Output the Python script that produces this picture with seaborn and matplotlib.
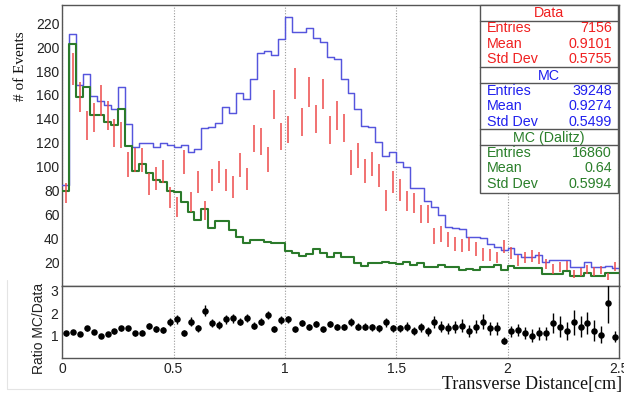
import numpy as np
import pandas as pd
import matplotlib
matplotlib.use("Agg")
import matplotlib.pyplot as plt
import seaborn as sns
from matplotlib.ticker import MultipleLocator, FixedLocator, NullFormatter
from matplotlib.patches import Rectangle
from matplotlib.lines import Line2D

# ---------------- data ----------------
x_min, x_max, n_bins = 0.0, 2.5, 80

data_counts = [77.7, 181.5, 158.6, 134.3, 141.3, 155.3, 142.7, 128.0, 126.5, 102.0,
               105.6, 105.6, 85.5, 90.3, 95.9, 74.3, 66.5, 103.7, 70.2, 87.5,
               63.5, 88.6, 95.6, 88.6, 83.3, 101.7, 89.7, 123.7, 121.0, 105.9,
               152.2, 125.1, 131.0, 169.8, 137.0, 162.8, 139.9, 160.7, 130.7, 142.7,
               132.5, 103.7, 109.2, 96.3, 102.4, 92.4, 71.7, 87.2, 80.3, 71.5,
               69.5, 60.3, 60.3, 42.0, 43.7, 39.0, 35.5, 34.0, 35.0, 31.0,
               26.5, 26.0, 24.0, 33.0, 27.5, 21.5, 24.0, 25.0, 23.5, 18.6,
               14.4, 16.0, 17.3, 10.2, 12.0, 13.9, 12.2, 13.6, 8.0, 16.5]

data_err = [8.4, 13.3, 12.6, 11.9, 11.9, 12.8, 11.9, 11.5, 11.2, 10.3,
            10.3, 10.3, 9.1, 9.6, 9.8, 8.6, 8.2, 10.2, 8.4, 9.2,
            8.1, 9.3, 9.5, 9.3, 9.1, 10.0, 9.5, 11.2, 11.0, 10.3,
            12.3, 11.2, 11.4, 13.0, 11.7, 12.6, 11.8, 12.7, 11.4, 12.0,
            11.5, 10.3, 10.4, 9.8, 10.1, 9.6, 8.5, 9.3, 9.0, 8.5,
            8.4, 7.8, 7.8, 6.5, 6.6, 6.2, 5.9, 5.8, 5.9, 5.6,
            5.2, 5.1, 4.9, 5.6, 5.1, 4.6, 4.8, 5.0, 4.9, 4.3,
            3.9, 4.0, 4.1, 3.2, 3.5, 3.6, 3.5, 3.6, 2.9, 4.0]

mc_counts = [85.0, 210.8, 168.4, 177.6, 159.2, 155.3, 151.6, 148.0, 166.4, 135.5,
             116.2, 119.6, 120.0, 116.8, 120.0, 118.2, 116.8, 118.2, 112.6, 114.6,
             132.1, 133.5, 136.8, 149.7, 144.7, 162.0, 156.4, 173.1, 194.9, 197.1,
             193.5, 206.6, 225.0, 212.5, 212.5, 215.8, 207.4, 204.0, 192.0, 189.8,
             173.1, 161.4, 148.0, 134.3, 133.5, 120.4, 109.0, 112.0, 104.2, 99.5,
             81.9, 81.9, 71.5, 66.5, 59.6, 49.3, 48.4, 48.0, 41.4, 41.4,
             40.0, 35.0, 33.0, 30.3, 32.2, 26.7, 24.7, 24.7, 26.1, 20.0,
             21.9, 21.9, 21.9, 16.3, 16.3, 20.5, 16.3, 16.3, 17.0, 15.5]

dalitz_counts = [80.0, 202.4, 158.0, 167.0, 143.3, 143.3, 137.7, 134.9, 148.0, 117.3,
                 96.4, 102.0, 95.0, 88.9, 87.5, 80.0, 79.0, 70.7, 62.4, 55.4,
                 64.6, 48.4, 54.6, 54.6, 47.0, 41.4, 35.9, 38.7, 38.7, 37.3,
                 35.9, 36.5, 29.7, 28.0, 25.3, 26.9, 30.9, 28.0, 24.2, 27.5,
                 24.2, 24.2, 19.7, 16.9, 19.7, 19.7, 20.5, 19.7, 18.3, 20.5,
                 18.0, 19.7, 16.3, 16.3, 17.7, 16.0, 16.0, 13.6, 14.4, 13.6,
                 16.4, 16.4, 17.7, 13.6, 17.0, 15.0, 15.0, 15.0, 15.0, 10.3,
                 10.3, 10.3, 12.8, 8.6, 8.6, 10.8, 8.9, 8.9, 10.8, 10.8]

ratio_vals = [1.11, 1.16, 1.08, 1.33, 1.16, 1.01, 1.08, 1.21, 1.33, 1.33,
              1.11, 1.14, 1.44, 1.30, 1.26, 1.60, 1.73, 1.14, 1.63, 1.33,
              2.12, 1.56, 1.48, 1.73, 1.78, 1.63, 1.78, 1.44, 1.63, 1.93,
              1.30, 1.70, 1.73, 1.29, 1.57, 1.38, 1.53, 1.29, 1.51, 1.38,
              1.38, 1.60, 1.41, 1.41, 1.38, 1.33, 1.59, 1.33, 1.33, 1.41,
              1.21, 1.38, 1.19, 1.60, 1.41, 1.33, 1.38, 1.45, 1.21, 1.41,
              1.63, 1.33, 1.33, 0.79, 1.19, 1.26, 1.11, 1.01, 1.11, 1.11,
              1.56, 1.41, 1.23, 1.59, 1.41, 1.56, 1.23, 1.04, 2.44, 0.96]

ratio_err = [0.12, 0.09, 0.09, 0.11, 0.10, 0.09, 0.10, 0.11, 0.11, 0.12,
             0.12, 0.12, 0.14, 0.13, 0.13, 0.17, 0.20, 0.13, 0.19, 0.16,
             0.26, 0.17, 0.16, 0.19, 0.20, 0.17, 0.19, 0.15, 0.16, 0.19,
             0.13, 0.16, 0.16, 0.12, 0.14, 0.13, 0.14, 0.12, 0.14, 0.14,
             0.14, 0.17, 0.17, 0.16, 0.15, 0.16, 0.20, 0.17, 0.17, 0.19,
             0.19, 0.20, 0.20, 0.26, 0.24, 0.25, 0.27, 0.28, 0.26, 0.30,
             0.33, 0.30, 0.30, 0.16, 0.26, 0.28, 0.27, 0.27, 0.28, 0.30,
             0.45, 0.45, 0.40, 0.55, 0.45, 0.50, 0.45, 0.38, 0.87, 0.25]

stats_titles = ["Data", "MC", "MC (Dalitz)"]
stats_labels = ["Entries", "Mean", "Std Dev"]
stats_values = [["7156", "0.9101", "0.5755"],
                ["39248", "0.9274", "0.5499"],
                ["16860", "0.64", "0.5994"]]

x_tick_labels = ["0", "0.5", "1", "1.5", "2", "2.5"]
ratio_tick_labels = ["1", "2", "3"]

# ---------------- styling ----------------
sns.set_theme(style="white")
plt.rcParams["font.family"] = ["Liberation Sans", "DejaVu Sans"]

RED = "#ee4a4a"
RED_TXT = "#f02020"
BLUE = "#5555dd"
BLUE_TXT = "#2020ee"
GREEN = "#2b7a2b"
GREEN_TXT = "#2a7f2a"
FRAME = "#555555"

W, H = 624, 399
fig = plt.figure(figsize=(W / 100, H / 100), dpi=100)
fig.patch.set_facecolor("white")


def rect(x0, y0, x1, y1):
    return [x0 / W, 1 - y1 / H, (x1 - x0) / W, (y1 - y0) / H]


X0, X1 = 62.3, 618.8
ax = fig.add_axes(rect(X0, 4.5, X1, 286.2))
ax2 = fig.add_axes(rect(X0, 286.2, X1, 358.3))

edges = [float(e) for e in np.linspace(x_min, x_max, n_bins + 1)]
centers = [0.5 * (edges[i] + edges[i + 1]) for i in range(n_bins)]

hist_df = pd.DataFrame({"x": centers, "mc": mc_counts, "dalitz": dalitz_counts,
                        "data": data_counts, "data_err": data_err,
                        "ratio": ratio_vals, "ratio_err": ratio_err})

# ---------------- top panel ----------------
sns.histplot(data=hist_df, x="x", weights="mc", bins=edges, element="step", fill=False,
             color=BLUE, linewidth=1.05, ax=ax, legend=False, zorder=3)
sns.histplot(data=hist_df, x="x", weights="dalitz", bins=edges, element="step", fill=False,
             color=GREEN, linewidth=1.5, ax=ax, legend=False, zorder=4)
ax.errorbar(hist_df["x"], hist_df["data"], yerr=hist_df["data_err"], fmt="none",
            ecolor=RED, elinewidth=1.1, capsize=0, zorder=5)

ax.set_xlim(x_min, x_max)
ax.set_ylim(0, 235.7)
ax.set_xlabel("")
ax.set_ylabel("")

ax.xaxis.set_major_locator(MultipleLocator(0.5))
ax.xaxis.set_minor_locator(MultipleLocator(0.1))
ax.xaxis.set_major_formatter(NullFormatter())
ax.yaxis.set_major_locator(FixedLocator(np.arange(20, 221, 20)))
ax.yaxis.set_minor_locator(MultipleLocator(4))
ax.tick_params(axis="y", which="major", direction="in", length=12, width=0.9,
               color=FRAME, labelsize=10, pad=2, labelcolor="#222222")
ax.tick_params(axis="y", which="minor", direction="in", length=6, width=0.8, color=FRAME)
ax.tick_params(axis="x", which="major", direction="in", length=8, width=0.9, color=FRAME)
ax.tick_params(axis="x", which="minor", direction="in", length=5, width=0.8, color=FRAME)
ax.tick_params(top=False, right=False)
ax.grid(False)
ax.xaxis.grid(True, which="major", linestyle=(0, (1, 1.5)), color="#9a9a9a", linewidth=0.8)

# ---------------- ratio panel ----------------
ax2.errorbar(hist_df["x"], hist_df["ratio"], yerr=hist_df["ratio_err"], fmt="none",
             ecolor="black", elinewidth=1.0, capsize=0, zorder=3)
sns.scatterplot(data=hist_df, x="x", y="ratio", color="black", s=22, linewidth=0,
                ax=ax2, zorder=4, legend=False)
ax2.set_xlim(x_min, x_max)
ax2.set_ylim(0, 3.2)
ax2.set_xlabel("")
ax2.set_ylabel("")
ax2.xaxis.set_major_locator(FixedLocator(np.arange(0, 2.51, 0.5)))
ax2.set_xticklabels(x_tick_labels)
ax2.xaxis.set_minor_locator(MultipleLocator(0.1))
ax2.yaxis.set_major_locator(FixedLocator([1, 2, 3]))
ax2.set_yticklabels(ratio_tick_labels)
ax2.yaxis.set_minor_locator(MultipleLocator(0.2))
ax2.tick_params(axis="y", which="major", direction="in", length=12, width=0.9,
                color=FRAME, labelsize=10, pad=3, labelcolor="#222222")
ax2.tick_params(axis="y", which="minor", direction="in", length=6, width=0.8, color=FRAME)
ax2.tick_params(axis="x", which="major", direction="in", length=7, width=0.9,
                color=FRAME, labelsize=10, pad=3, labelcolor="#222222")
ax2.tick_params(axis="x", which="minor", direction="in", length=4, width=0.8, color=FRAME)
ax2.grid(False)
ax2.xaxis.grid(True, which="major", linestyle=(0, (1, 1.5)), color="#9a9a9a", linewidth=0.8)

for a in (ax, ax2):
    for s in a.spines.values():
        s.set_color(FRAME)
        s.set_linewidth(1.0)
        s.set_visible(True)

# ---------------- axis titles ----------------
fig.text(20 / W, 1 - 66 / H, "# of Events", rotation=90, ha="center", va="center",
         fontsize=11, family=["Liberation Serif", "DejaVu Serif"], color="#111111")
fig.text(39 / W, 1 - 328 / H, "Ratio MC/Data", rotation=90, ha="center", va="center",
         fontsize=10, color="#222222")

# faint lower pad border
fig.add_artist(Line2D([7 / W, 7 / W], [1 - 280 / H, 1 - 389 / H], color="#e4e4e4", lw=0.8))
fig.add_artist(Line2D([7 / W, 440 / W], [1 - 389 / H, 1 - 389 / H], color="#e4e4e4", lw=0.8))

fig.text(622 / W, 1 - 385 / H, "Transverse Distance[cm]", ha="right", va="center",
         fontsize=13, family=["Liberation Serif", "DejaVu Serif"], color="#111111")

# ---------------- stats box ----------------
bx0, bx1 = 480.0, 618.3
section_tops = [5.0, 67.3, 129.3]
header_h = 15.6
row_h = 15.5
colors_txt = [RED_TXT, BLUE_TXT, GREEN_TXT]
box_bottom = 192.7
STAT_FS = 10.3

fig.add_artist(Rectangle((bx0 / W, 1 - box_bottom / H), (bx1 - bx0) / W,
                         (box_bottom - section_tops[0]) / H, transform=fig.transFigure,
                         facecolor="white", edgecolor=FRAME, linewidth=1.0, zorder=10))
for i, top in enumerate(section_tops):
    c = colors_txt[i]
    if i > 0:
        fig.add_artist(Line2D([bx0 / W, bx1 / W], [1 - top / H, 1 - top / H],
                              color=FRAME, lw=1.0, zorder=11))
    hb = top + header_h
    fig.add_artist(Line2D([bx0 / W, bx1 / W], [1 - hb / H, 1 - hb / H],
                          color=FRAME, lw=1.0, zorder=11))
    fig.text((bx0 + bx1) / 2 / W, 1 - (top + header_h / 2 + 0.5) / H, stats_titles[i],
             ha="center", va="center", fontsize=STAT_FS, color=c, zorder=12)
    for j in range(3):
        yy = hb + 7.8 + j * row_h
        fig.text(487 / W, 1 - yy / H, stats_labels[j], ha="left", va="center",
                 fontsize=STAT_FS, color=c, zorder=12)
        fig.text(612 / W, 1 - yy / H, stats_values[i][j], ha="right", va="center",
                 fontsize=STAT_FS, color=c, zorder=12)

fig.savefig("out.png", dpi=100, facecolor="white")
